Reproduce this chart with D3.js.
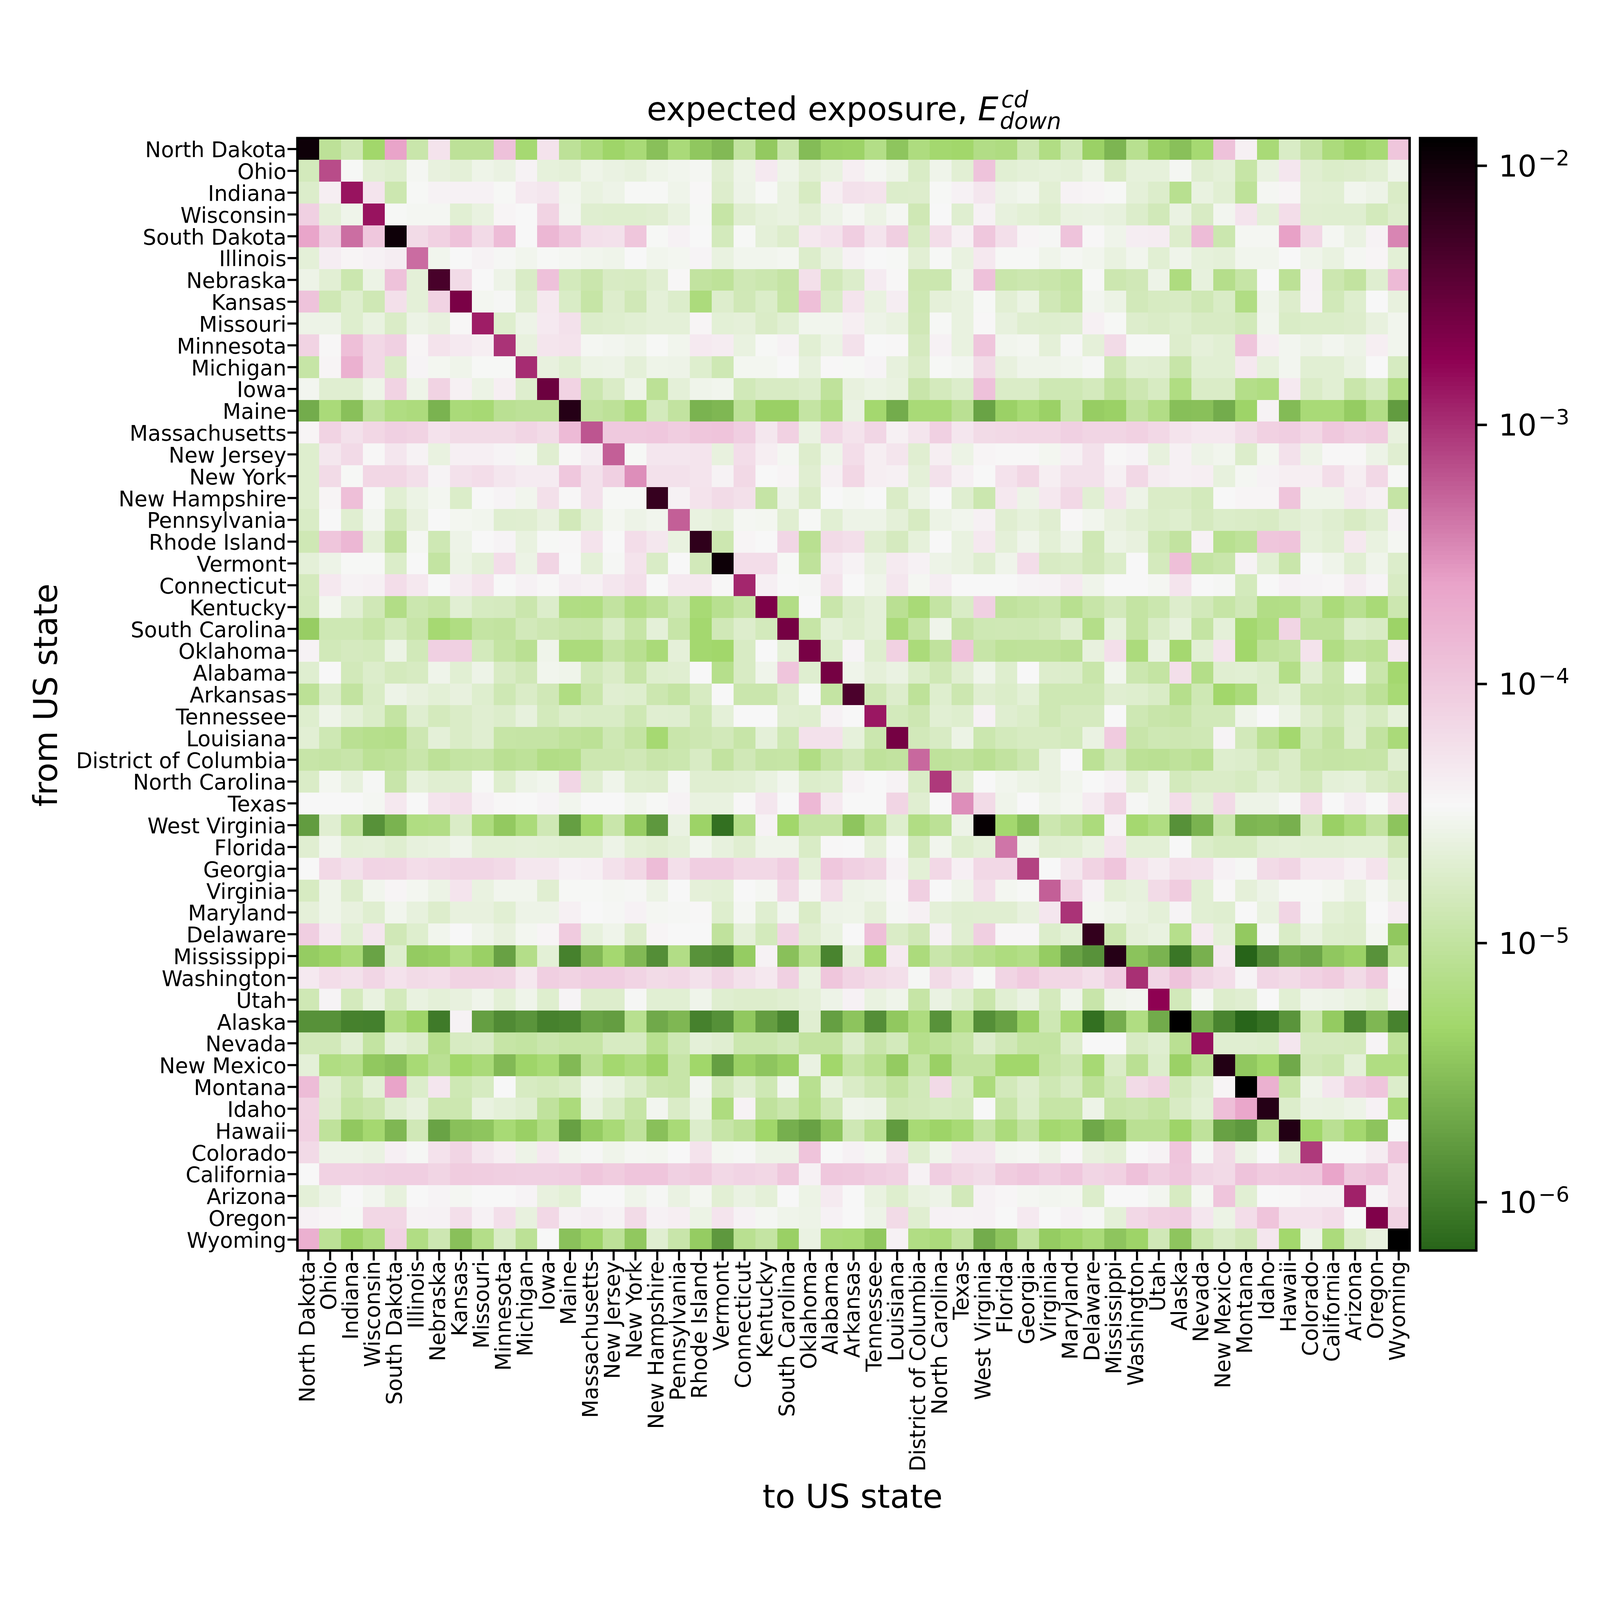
<!DOCTYPE html>
<html><head><meta charset="utf-8">
<script src="https://cdnjs.cloudflare.com/ajax/libs/d3/7.8.5/d3.min.js"></script>
<style>html,body{margin:0;padding:0;background:#fff;overflow:hidden}svg{display:block;width:100vw;height:100vh;font-family:"DejaVu Sans"}</style>
</head><body><div id="chart"></div>
<script>
const states=["North Dakota","Ohio","Indiana","Wisconsin","South Dakota","Illinois","Nebraska","Kansas","Missouri","Minnesota","Michigan","Iowa","Maine","Massachusetts","New Jersey","New York","New Hampshire","Pennsylvania","Rhode Island","Vermont","Connecticut","Kentucky","South Carolina","Oklahoma","Alabama","Arkansas","Tennessee","Louisiana","District of Columbia","North Carolina","Texas","West Virginia","Florida","Georgia","Virginia","Maryland","Delaware","Mississippi","Washington","Utah","Alaska","Nevada","New Mexico","Montana","Idaho","Hawaii","Colorado","California","Arizona","Oregon","Wyoming"];
// each row: -100*log10(exposure), one entry per "to" state
const r00=[198,505,487,532,362,493,427,505,505,392,528,427,505,520,534,525,550,524,545,555,500,543,492,553,537,536,515,546,520,530,532,516,519,489,517,488,537,558,510,538,550,528,393,440,525,477,497,522,535,526,397];
const r01=[483,315,448,468,472,450,462,466,456,460,442,464,466,456,460,463,456,453,450,470,456,433,456,468,461,438,450,456,477,455,468,394,469,466,464,466,456,478,464,464,450,470,466,496,461,430,470,475,473,469,455];
const r02=[474,438,285,428,490,448,442,441,441,448,433,430,453,461,457,448,448,455,446,473,457,448,461,479,438,425,427,474,473,448,441,430,457,453,468,442,444,448,466,474,510,461,469,504,450,444,468,469,453,457,476];
const r03=[407,466,455,285,448,450,450,469,461,444,447,410,452,471,472,472,470,461,448,496,470,464,461,468,457,450,458,450,487,447,471,441,463,467,472,461,460,463,474,485,460,478,452,428,466,420,470,471,471,483,473];
const r04=[363,407,333,398,198,418,408,393,417,387,447,382,398,422,424,397,448,441,447,483,448,466,473,432,426,405,428,406,478,420,440,398,422,444,449,394,446,455,437,436,473,387,491,450,450,360,415,450,460,442,345];
const r05=[466,437,444,441,437,332,453,447,442,449,453,448,450,453,455,447,453,451,443,461,453,453,451,474,460,441,447,448,468,448,461,432,448,448,455,450,453,461,453,469,455,464,466,453,453,447,455,461,450,444,467];
const r06=[457,468,491,458,393,466,233,418,447,457,477,392,483,492,478,479,470,446,500,504,487,491,497,423,485,474,435,446,490,491,455,392,493,490,493,499,448,490,486,457,520,463,513,496,447,506,441,490,500,471,385];
const r07=[394,487,472,487,423,466,410,263,451,449,471,432,477,496,473,486,466,474,522,473,486,475,496,390,477,428,461,437,488,465,461,448,468,459,486,496,452,458,484,479,478,487,477,517,455,473,442,485,472,447,462];
const r08=[457,457,472,461,476,458,462,446,290,472,457,433,424,474,472,469,466,466,444,467,465,476,469,453,453,438,457,461,486,448,461,446,463,471,472,471,440,448,473,476,472,478,478,485,453,477,475,475,473,462,453];
const r09=[410,446,390,415,407,444,427,433,438,302,462,429,427,450,452,455,448,453,433,436,461,448,442,469,458,424,447,446,481,441,461,396,453,451,466,449,465,418,448,448,473,465,469,396,438,452,457,452,457,438,453];
const r10=[496,444,375,415,476,443,451,455,448,448,298,462,469,458,457,466,456,457,472,488,451,451,447,463,446,448,443,463,476,448,452,418,462,455,455,453,449,487,469,470,495,469,469,432,464,452,469,469,460,447,480];
const r11=[452,470,470,456,410,456,410,440,458,438,472,255,410,491,476,456,506,466,455,453,485,478,478,474,503,462,458,461,494,482,474,392,476,476,488,488,482,502,489,479,518,476,476,514,518,433,476,469,493,480,516];
const r12=[565,524,550,503,518,521,560,524,527,508,505,505,212,500,505,522,483,500,560,557,505,538,538,498,517,460,530,565,525,525,508,572,537,526,537,492,540,537,502,516,551,550,565,535,442,554,525,525,541,516,577];
const r13=[444,410,424,414,407,410,426,418,418,418,412,418,385,320,400,400,398,404,397,395,405,431,408,460,415,427,413,440,429,407,430,418,416,414,414,407,412,412,408,415,427,432,432,419,408,405,414,399,406,402,462];
const r14=[472,431,417,446,430,442,461,439,439,443,450,470,446,437,325,448,430,430,428,462,420,438,450,473,455,420,438,429,470,438,458,444,446,446,451,440,424,446,443,463,440,457,453,474,451,425,457,446,446,457,470];
const r15=[472,418,448,414,414,422,443,424,420,430,435,435,398,424,407,350,424,424,428,442,416,447,444,470,440,414,438,440,466,424,440,447,426,414,438,424,424,440,415,436,440,438,463,450,442,438,438,420,438,415,448];
const r16=[472,444,390,448,469,458,451,475,447,443,453,423,446,425,448,448,222,441,427,418,423,497,457,476,447,450,447,476,458,447,471,491,432,457,432,415,469,427,457,476,476,483,447,444,444,395,455,455,433,440,497];
const r17=[477,447,470,452,485,462,447,451,453,471,470,462,484,466,451,457,453,325,461,466,450,451,470,448,469,457,457,466,479,458,453,440,470,464,470,446,453,462,469,475,472,481,475,476,478,470,466,471,478,471,441];
const r18=[487,397,382,466,502,450,488,457,447,443,461,448,446,427,447,420,431,461,218,490,444,447,413,509,418,422,470,481,464,447,461,432,466,455,467,457,487,458,462,488,500,441,510,504,397,395,464,469,432,461,450];
const r19=[466,457,448,448,475,447,499,458,466,420,458,412,447,466,449,427,477,447,484,197,420,420,448,503,433,442,460,434,441,457,461,471,455,420,478,476,486,475,447,482,390,498,493,442,469,493,449,455,469,455,474];
const r20=[482,432,442,440,420,432,447,436,427,447,441,446,437,440,430,422,447,433,432,446,295,439,447,449,427,447,455,430,450,437,447,447,447,443,442,434,455,447,447,450,428,447,449,483,447,441,443,445,435,443,478];
const r21=[485,451,469,486,516,491,496,469,480,481,492,474,517,518,500,517,506,488,526,510,496,265,516,447,493,474,466,508,525,498,477,407,502,498,493,510,495,484,498,491,473,484,496,486,516,515,497,523,510,525,490];
const r22=[540,488,488,496,483,495,528,518,498,500,484,489,494,495,477,496,466,495,530,486,473,483,260,496,466,472,466,524,498,455,497,488,487,488,484,470,514,464,498,477,463,498,466,530,520,412,505,505,474,478,536];
const r23=[442,485,481,483,458,485,407,407,483,498,508,455,522,522,498,509,524,465,530,532,478,447,466,262,474,443,472,408,523,502,395,495,504,503,503,508,462,422,522,460,529,468,428,532,503,498,427,517,503,507,432];
const r24=[471,447,484,474,482,479,455,469,457,478,486,453,455,485,476,495,472,470,447,512,478,455,396,471,260,455,465,460,475,487,470,455,472,447,473,474,493,453,491,498,422,514,470,469,474,515,470,493,447,493,530];
const r25=[506,474,500,477,457,462,467,462,472,488,476,486,518,493,470,472,490,498,479,447,492,492,473,447,498,235,487,473,504,472,490,470,475,467,488,488,488,470,472,477,512,488,532,522,473,467,493,495,490,505,526];
const r26=[472,455,466,475,498,471,482,476,470,474,463,483,474,477,477,488,470,471,488,466,447,447,470,472,441,447,287,483,489,469,472,441,471,475,488,481,481,447,488,494,497,485,485,455,447,458,473,487,471,480,464];
const r27=[468,488,508,512,514,489,466,476,470,496,497,497,503,506,488,498,528,493,489,484,495,466,488,425,425,464,491,260,484,478,458,491,483,479,479,483,460,402,494,488,489,487,443,484,508,530,488,500,470,500,524];
const r28=[495,497,494,506,503,493,505,498,496,508,504,516,514,490,490,486,494,491,478,500,486,497,496,517,497,486,503,500,330,503,500,508,500,490,461,447,506,484,506,508,503,509,472,474,486,476,495,497,496,495,470];
const r29=[476,451,463,449,494,464,470,470,448,472,457,453,413,470,455,472,473,449,470,470,469,461,453,474,472,442,447,442,477,305,470,447,453,458,461,453,447,441,467,455,483,476,476,480,469,476,484,466,464,476,484];
const r30=[447,447,447,450,432,447,428,422,441,446,447,443,453,447,447,453,448,442,461,461,446,430,447,383,433,447,447,412,470,447,350,418,455,447,455,451,435,412,449,455,420,465,417,457,457,449,420,447,437,447,427];
const r31=[577,470,500,585,560,518,516,476,520,543,523,487,575,532,493,540,580,460,536,610,514,442,532,497,497,546,508,472,517,506,457,193,530,551,490,500,522,442,529,518,585,560,492,558,556,562,484,538,522,500,547];
const r32=[470,453,467,466,471,463,461,455,467,467,466,467,469,469,457,467,470,466,453,463,470,455,455,477,446,447,465,447,485,453,472,466,337,455,470,469,461,428,467,467,447,475,480,480,469,467,469,469,467,467,486];
const r33=[447,416,425,411,412,420,417,413,413,417,431,431,441,439,424,414,387,422,405,405,415,415,405,466,398,407,412,441,467,415,439,415,415,310,447,431,410,396,427,436,423,425,441,449,418,412,432,432,440,427,469];
const r34=[479,455,474,453,444,451,458,428,461,453,453,470,448,448,450,449,458,447,465,467,447,450,415,450,420,457,455,446,406,447,455,422,451,448,325,410,441,467,463,418,403,469,446,465,457,448,448,451,461,450,462];
const r35=[465,455,462,471,453,463,473,462,462,469,457,457,440,447,449,441,450,449,446,472,450,471,452,476,457,456,465,449,440,466,471,470,470,462,430,302,451,455,461,466,443,469,471,447,461,412,449,467,472,447,436];
const r36=[405,433,469,430,486,472,453,447,455,462,451,444,402,463,455,473,444,447,447,502,465,483,412,470,461,447,390,476,486,441,470,406,445,445,474,466,220,491,465,461,512,434,465,543,449,477,461,472,473,451,544];
const r37=[541,536,524,572,472,542,539,522,538,573,514,467,597,555,529,555,587,516,584,590,541,442,550,510,595,466,532,433,522,493,503,512,520,515,541,572,584,212,548,560,605,562,433,620,587,563,570,545,537,584,507];
const r38=[433,420,424,413,426,418,420,410,410,412,432,406,410,405,405,411,418,415,424,413,425,432,407,461,397,411,418,422,449,418,430,448,412,402,414,414,422,405,300,413,394,413,420,443,413,418,409,403,418,402,447];
const r39=[487,443,482,461,483,461,466,462,455,467,455,472,443,473,473,449,469,469,455,471,473,473,470,466,457,441,461,455,496,460,472,493,469,460,482,455,494,455,452,275,484,450,473,470,447,469,455,457,461,467,444];
const r40=[585,585,597,598,517,535,602,442,575,590,583,597,595,572,576,510,567,557,597,586,544,576,594,470,575,547,587,544,520,584,516,587,573,537,488,527,610,564,518,566,189,564,595,618,608,583,493,542,592,557,596];
const r41=[484,484,469,499,466,473,513,479,476,496,499,492,496,496,479,479,510,488,466,470,491,491,485,500,500,474,494,483,512,504,496,473,486,498,499,473,447,447,478,471,508,283,470,470,472,430,481,481,482,443,504];
const r42=[466,518,514,544,550,526,508,533,524,555,534,526,555,508,530,520,536,495,533,575,538,546,538,460,532,496,509,542,499,538,500,500,532,532,496,489,527,476,508,474,537,507,210,544,533,567,486,491,466,518,518];
const r43=[387,470,491,467,362,474,430,488,480,447,479,482,476,455,461,474,492,495,452,486,470,488,452,510,461,476,487,500,485,417,479,522,484,473,488,478,505,484,418,410,484,471,444,189,375,496,455,430,405,396,474];
const r44=[410,473,499,492,471,462,490,490,461,466,471,502,522,461,477,496,452,476,458,520,442,502,492,512,487,455,457,487,484,480,483,447,495,475,496,496,457,495,492,498,478,467,390,365,212,474,460,461,457,441,524];
const r45=[408,503,544,529,557,486,572,550,546,526,538,518,574,541,525,503,550,525,474,495,505,533,563,573,546,487,508,578,526,535,526,498,522,500,530,525,568,550,508,508,535,503,573,580,513,210,533,508,529,547,447];
const r46=[417,457,457,460,439,449,426,412,430,438,457,432,453,449,455,450,451,447,427,451,449,457,457,395,447,441,450,425,472,455,430,430,452,450,458,446,462,467,447,442,396,449,418,458,447,470,305,447,447,436,398];
const r47=[447,409,409,407,405,405,412,403,404,406,407,407,405,397,403,396,396,407,403,415,411,414,399,441,398,400,405,409,441,405,414,419,403,398,406,398,412,408,392,406,398,413,417,394,402,400,398,363,400,394,427];
const r48=[466,457,447,452,463,447,443,450,447,447,443,462,467,447,447,455,449,460,451,468,460,466,447,458,434,447,461,472,461,457,484,441,445,450,452,451,474,447,447,452,479,450,396,469,447,446,441,441,292,443,427];
const r49=[441,444,448,414,414,442,441,422,441,422,462,415,441,437,442,418,441,438,458,428,441,450,455,457,441,447,457,418,470,441,442,441,447,433,447,441,449,466,415,408,405,430,458,420,395,426,426,420,447,267,410];
const r50=[374,506,535,520,409,517,489,550,514,477,506,447,549,535,505,544,470,494,541,580,509,498,538,460,524,526,544,441,517,522,500,565,546,500,541,535,524,546,535,486,546,491,477,486,430,531,457,522,476,462,189];
const rows=[r00,r01,r02,r03,r04,r05,r06,r07,r08,r09,r10,r11,r12,r13,r14,r15,r16,r17,r18,r19,r20,r21,r22,r23,r24,r25,r26,r27,r28,r29,r30,r31,r32,r33,r34,r35,r36,r37,r38,r39,r40,r41,r42,r43,r44,r45,r46,r47,r48,r49,r50];
const colourStops=["#276419","#a1d76a","#f7f7f7","#e9a3c9","#8e0152","#000000"];
const colourTicks=[1e-6,1e-5,1e-4,1e-3,1e-2];
const logMin=-6.187,logMax=-1.894;

const L=836.5,R=3964.5,T=388.5,B=3517,CL=3994,CR=4152;
const svg=d3.select("#chart").append("svg").attr("viewBox","0 0 4500 4500").attr("preserveAspectRatio","xMidYMid meet");
const x=d3.scaleBand().domain(states).range([L,R]);
const y=d3.scaleBand().domain(states).range([T,B]);
const stopDomain=colourStops.map((_,i)=>Math.pow(10,logMin+(logMax-logMin)*i/(colourStops.length-1)));
const colour=d3.scaleLog().domain(stopDomain).range(colourStops).interpolate(d3.interpolateRgb).clamp(true);

const cells=rows.flatMap((row,i)=>row.map((v,j)=>({from:states[i],to:states[j],value:Math.pow(10,-v/100)})));
svg.append("g").attr("shape-rendering","crispEdges").selectAll("rect").data(cells).join("rect")
 .attr("x",d=>x(d.to)).attr("y",d=>y(d.from))
 .attr("width",x.bandwidth()+0.5).attr("height",y.bandwidth()+0.5)
 .attr("fill",d=>colour(d.value));

const axB=svg.append("g").attr("transform",`translate(0,${B})`).call(d3.axisBottom(x).tickSize(28).tickSizeOuter(0));
const axL=svg.append("g").attr("transform",`translate(${L},0)`).call(d3.axisLeft(y).tickSize(28).tickSizeOuter(0));
[axB,axL].forEach(a=>{a.select(".domain").remove();a.selectAll("line").attr("stroke","#000").attr("stroke-width",6);
 a.selectAll("text").attr("font-family","DejaVu Sans").attr("font-size",59.7).attr("fill","#000");});
axB.selectAll("text").attr("transform","rotate(-90)").attr("text-anchor","end").attr("x",-30).attr("y",0).attr("dy","0.28em");
axL.selectAll("text").attr("x",-31).attr("dy","0.38em");
svg.append("rect").attr("x",L).attr("y",T).attr("width",R-L).attr("height",B-T).attr("fill","none").attr("stroke","#000").attr("stroke-width",7);

// colour bar
const cb=d3.scaleLog().domain([Math.pow(10,logMin),Math.pow(10,logMax)]).range([B,T]);
const bands=d3.range(256);
svg.append("g").attr("shape-rendering","crispEdges").selectAll("rect").data(bands).join("rect")
 .attr("x",CL).attr("width",CR-CL)
 .attr("y",i=>T+(B-T)*i/256).attr("height",(B-T)/256+1)
 .attr("fill",i=>colour(Math.pow(10,logMax-(logMax-logMin)*(i+0.5)/256)));
svg.append("rect").attr("x",CL).attr("y",T).attr("width",CR-CL).attr("height",B-T).attr("fill","none").attr("stroke","#000").attr("stroke-width",7);
const axC=svg.append("g").attr("transform",`translate(${CR},0)`).call(d3.axisRight(cb).tickValues(colourTicks).tickSize(30).tickFormat(()=>""));
axC.select(".domain").remove();
axC.selectAll("line").attr("stroke","#000").attr("stroke-width",7);
axC.selectAll("text").attr("x",63).attr("dy","30").attr("font-family","DejaVu Sans").attr("font-size",84).attr("fill","#000")
 .each(function(d){const t=d3.select(this);t.text("10");
  t.append("tspan").attr("font-size",59).attr("dx",5).attr("dy",-32).text("\u2212"+Math.round(-Math.log10(d)));});

// titles
const title=svg.append("text").attr("x",1819).attr("y",338).attr("font-size",91.5).attr("fill","#000");
title.append("tspan").text("expected exposure, ");
title.append("tspan").attr("font-style","italic").text("E");
svg.append("text").attr("x",2816).attr("y",302).attr("font-size",64).attr("font-style","italic").text("cd");
svg.append("text").attr("x",2812).attr("y",362).attr("font-size",64).attr("font-style","italic").text("down");
svg.append("text").attr("x",2398).attr("y",4241).attr("text-anchor","middle").attr("font-size",91.5).text("to US state");
svg.append("text").attr("transform","translate(160,1955) rotate(-90)").attr("text-anchor","middle").attr("font-size",91.5).text("from US state");
</script></body></html>
